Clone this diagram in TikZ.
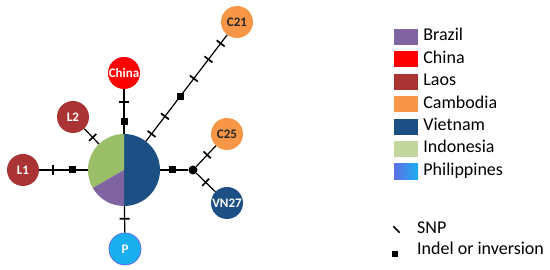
\documentclass[tikz,border=0pt]{standalone}
\usepackage{fontspec}
\setmainfont{Carlito}
\usepackage{xcolor}
\definecolor{brazilc}{RGB}{128,100,162}
\definecolor{chinac}{RGB}{255,0,0}
\definecolor{laosc}{RGB}{170,52,52}
\definecolor{cambodiac}{RGB}{247,150,70}
\definecolor{vietnamc}{RGB}{28,80,132}
\definecolor{indonesiac}{RGB}{195,214,155}
\definecolor{hubgreen}{RGB}{155,190,105}
\definecolor{philc}{RGB}{26,176,240}
\definecolor{philedge}{RGB}{95,110,230}
\usepackage{tikz}
\usetikzlibrary{positioning}
\tikzset{
  haplo/.style={
    circle, inner sep=0pt, minimum size=32pt,
    text=white, font=\fontsize{13}{15}\selectfont\bfseries
  },
  link/.style={line width=1.2pt, draw=black},
  snp/.style={
    sloped, rectangle, fill=black, inner sep=0pt,
    minimum width=1.7pt, minimum height=10pt
  },
  indel/.style={rectangle, fill=black, inner sep=0pt, minimum size=7pt},
  swatch/.style={rectangle, inner sep=0pt, minimum width=24pt, minimum height=16pt},
  legtext/.style={
    inner sep=0pt, anchor=west, text height=11pt, text depth=3pt,
    font=\fontsize{18}{20}\selectfont
  },
}

\begin{document}
\begin{tikzpicture}[x=1pt, y=1pt]
  \useasboundingbox (0,0) rectangle (550,270);

  % haplotype network
  \node (hub)   [circle, inner sep=0pt, outer sep=0pt, minimum size=72pt] at (124,100) {};
  \fill[vietnamc] (hub.center) -- (hub.north) arc[start angle=90, end angle=-90, radius=36pt] -- cycle;
  \fill[hubgreen] (hub.center) -- (hub.north) arc[start angle=90, end angle=210, radius=36pt] -- cycle;
  \fill[brazilc]  (hub.center) -- (hub.210) arc[start angle=210, end angle=270, radius=36pt] -- cycle;

  \node (china) [haplo, fill=chinac]    at (124,197) {China};
  \node (l2)    [haplo, fill=laosc]     at (73,153)  {L2};
  \node (l1)    [haplo, fill=laosc]     at (23,100)  {L1};
  \node (p)     [haplo, fill=philc, draw=philedge, line width=0.8pt] at (125,21) {P};
  \node (c21)   [haplo, fill=cambodiac, text=black!85] at (237,248) {C21};
  \node (c25)   [haplo, fill=cambodiac, text=black!85] at (227,136) {C25};
  \node (vn27)  [haplo, fill=vietnamc]  at (227,67)  {VN27};
  \node (jct)   [circle, fill=black, inner sep=0pt, minimum size=9pt] at (193,100) {};

  \draw [link] (china) -- node[snp, pos=.29]{} node[indel, pos=.71]{} (hub);
  \draw [link] (l2)    -- node[snp, pos=.57]{} (hub);
  \draw [link] (l1)    -- node[snp, pos=.28]{} node[indel, pos=.69]{} (hub);
  \draw [link] (hub)   -- node[snp, pos=.48]{} (p);
  \draw [link] (hub)   -- node[snp, pos=.07]{} node[snp, pos=.235]{}
                          node[indel, pos=.42]{}
                          node[snp, pos=.59]{} node[snp, pos=.77]{} node[snp, pos=.92]{} (c21);
  \draw [link] (hub)   -- node[indel, pos=.43]{} (jct);
  \draw [link] (jct)   -- node[snp, pos=.56]{} (c25);
  \draw [link] (jct)   -- node[snp, pos=.49]{} (vn27);

  % legend
  \node (brazilsw) [swatch, fill=brazilc] at (406,233) {};
  \node (chinasw)  [swatch, fill=chinac,     below=6pt of brazilsw] {};
  \node (laossw)   [swatch, fill=laosc,      below=6pt of chinasw]  {};
  \node (cambsw)   [swatch, fill=cambodiac,  below=6pt of laossw]   {};
  \node (vietsw)   [swatch, fill=vietnamc,   below=6pt of cambsw]   {};
  \node (indosw)   [swatch, fill=indonesiac, below=6pt of vietsw]   {};
  \node (philsw)   [swatch, left color=philedge, right color=philc, below=6pt of indosw] {};

  \node [legtext, right=5pt of brazilsw] {Brazil};
  \node [legtext, right=5pt of chinasw]  {China};
  \node [legtext, right=5pt of laossw]   {Laos};
  \node [legtext, right=5pt of cambsw]   {Cambodia};
  \node [legtext, right=5pt of vietsw]   {Vietnam};
  \node [legtext, right=5pt of indosw]   {Indonesia};
  \node [legtext, right=5pt of philsw]   {Philippines};

  \node (snpkey)   [rectangle, fill=black, inner sep=0pt, minimum width=1.7pt,
                    minimum height=9pt, rotate=45] at (396.5,40.5) {};
  \node (indelkey) [indel, minimum size=6.5pt] at (395,16) {};
  \node [legtext] at (417,40.5) {SNP};
  \node [legtext] at (417,19)   {Indel or inversion};
\end{tikzpicture}
\end{document}
